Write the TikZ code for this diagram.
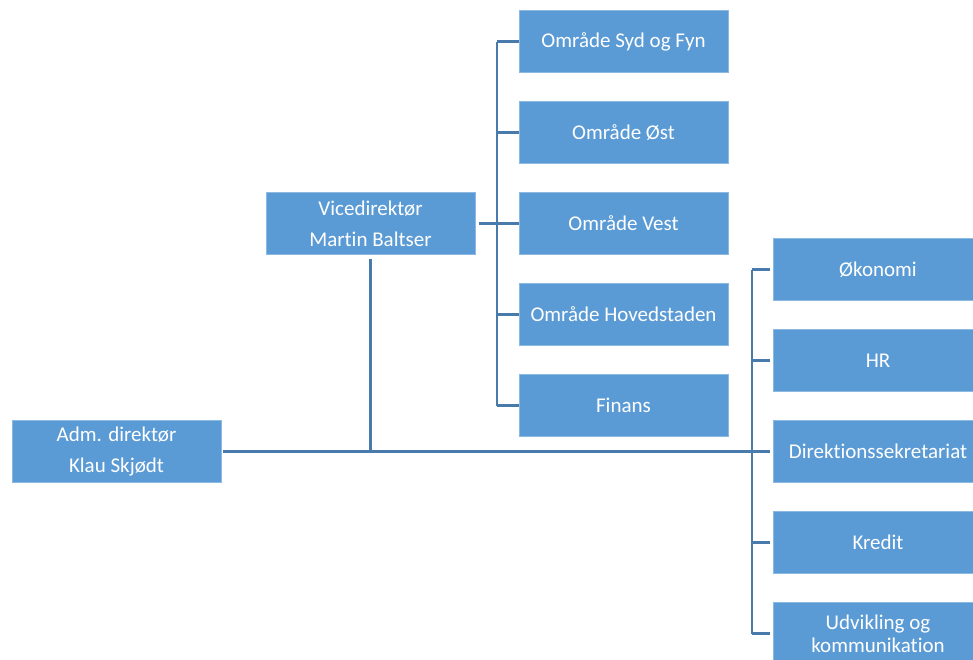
\documentclass[tikz,border=0pt]{standalone}
\usepackage{fontspec}
\setmainfont[Ligatures=CommonOff]{Carlito}
\definecolor{boxblue}{HTML}{5B9BD5}
\definecolor{linkblue}{RGB}{72,122,172}
\begin{document}
\begin{tikzpicture}[x=1pt,y=-1pt,
  unit/.style={fill=boxblue, draw=boxblue!70!white, line width=0.6pt, text=white,
    minimum width=209pt, minimum height=62pt, inner sep=0pt, align=center,
    font=\fontsize{21}{23}\selectfont},
  head/.style={unit, font=\fontsize{21}{31}\selectfont},
  link/.style={draw=linkblue, line width=2.2pt},
  trunk/.style={draw=linkblue, line width=3pt}]
\useasboundingbox (0,0) rectangle (973,659);

% management
\node[head] (adm)  at (116.5,451.5) {Adm. direktør\\Klau Skjødt};
\node[head] (vice) at (370.5,223.5) {Vicedirektør\\Martin Baltser};

% regional units under the deputy director
\node[unit] (syd)  at (623.5,41.5)  {Område Syd og Fyn};
\node[unit] (ost)  at (623.5,132.5) {Område Øst};
\node[unit] (vest) at (623.5,223.5) {Område Vest};
\node[unit] (hov)  at (623.5,314.5) {Område Hovedstaden};
\node[unit] (fin)  at (623.5,405.5) {Finans};

% staff functions
\node[unit] (oko)  at (878,269.5) {Økonomi};
\node[unit] (hr)   at (878,360.5) {HR};
\node[unit] (dir)  at (878,451.5) {Direktionssekretariat};
\node[unit] (kre)  at (878,542.5) {Kredit};
\node[unit] (udv)  at (878,633.5) {Udvikling og\\kommunikation};

% connector spines
\coordinate (vspine) at (497,0);
\coordinate (sspine) at (752,0);

% deputy director to regional units
\draw[link] (vice.east) ++(4,0) -- (vice.east -| vspine);
\draw[link] (syd.west -| vspine) -- (fin.west -| vspine);
\foreach \n in {syd,ost,vest,hov,fin}
  \draw[link] (\n.west -| vspine) -- (\n.west);

% main line from the managing director
\draw[trunk] (adm.east) ++(2,0) -- (dir.west -| sspine);
\draw[link] (vice.south) ++(0,4) -- (vice.south |- adm.east);

% staff spine and branches
\draw[link] (oko.west -| sspine) -- (udv.west -| sspine);
\foreach \n in {oko,hr,dir,kre,udv}
  \draw[link] (\n.west -| sspine) -- ([xshift=-3pt]\n.west);
\end{tikzpicture}
\end{document}
